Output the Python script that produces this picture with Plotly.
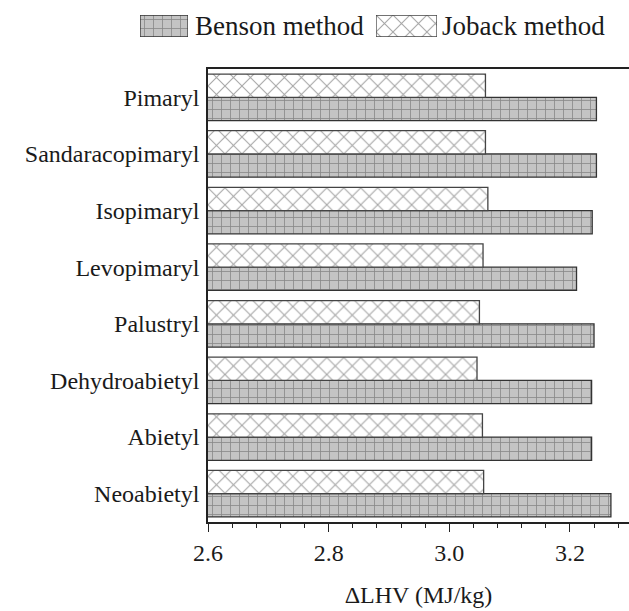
import plotly.graph_objects as go

# Fragments listed bottom-to-top on the category axis
fragments = ["Neoabietyl", "Abietyl", "Dehydroabietyl", "Palustryl",
             "Levopimaryl", "Isopimaryl", "Sandaracopimaryl", "Pimaryl"]
benson = [3.268, 3.236, 3.236, 3.240, 3.211, 3.237, 3.244, 3.244]
joback = [3.057, 3.055, 3.046, 3.050, 3.056, 3.064, 3.060, 3.060]
x_ticks = [2.6, 2.8, 3.0, 3.2]
series_names = ["Benson method", "Joback method"]
legend_swatch = [1]

FONT = "Liberation Serif"
INK = "#1a1a1a"
W, H = 629, 611

benson_marker = dict(color="#c4c4c4", line=dict(color="#333333", width=1.3),
                     pattern=dict(shape="+", size=9, solidity=0.17,
                                  fgcolor="#4a4a4a", bgcolor="#c4c4c4"))
joback_marker = dict(color="white", line=dict(color="#444444", width=1.3),
                     pattern=dict(shape="x", size=12, solidity=0.17,
                                  fgcolor="#4c4c4c", bgcolor="white"))


def px_x(p):
    return p / W


def px_y(p):
    return 1 - p / H


fig = go.Figure()
fig.add_trace(go.Bar(name=series_names[0], y=fragments, x=benson, orientation="h",
                     marker=benson_marker, showlegend=False))
fig.add_trace(go.Bar(name=series_names[1], y=fragments, x=joback, orientation="h",
                     marker=joback_marker, showlegend=False))

# Legend keys: one full-width bar per series on its own small axes
fig.add_trace(go.Bar(x=legend_swatch, y=[0], orientation="h", width=1,
                     marker=benson_marker, xaxis="x2", yaxis="y2",
                     showlegend=False, hoverinfo="skip"))
fig.add_trace(go.Bar(x=legend_swatch, y=[0], orientation="h", width=1,
                     marker=joback_marker, xaxis="x3", yaxis="y3",
                     showlegend=False, hoverinfo="skip"))

key_axis = dict(range=[0, 1], visible=False, fixedrange=True)
key_yaxis = dict(range=[-0.5, 0.5], visible=False, fixedrange=True)

fig.update_layout(
    width=W, height=H,
    margin=dict(l=0, r=0, t=0, b=0, autoexpand=False),
    barmode="group", bargap=0.18, bargroupgap=0,
    plot_bgcolor="white", paper_bgcolor="white",
    font=dict(family=FONT, size=24, color=INK),
    xaxis=dict(domain=[px_x(208), 1.0], range=[2.6, 3.298], automargin=False,
               tickvals=x_ticks, ticktext=[f"{v:.1f}" for v in x_ticks],
               tickfont=dict(family=FONT, size=24, color=INK),
               showline=True, linecolor="#222222", linewidth=1.6, mirror=True,
               ticks="outside", ticklen=8, tickwidth=1.3, tickcolor="#222222",
               minor=dict(dtick=0.04, tick0=2.6, ticks="outside", ticklen=4,
                          tickwidth=1.1, tickcolor="#222222"),
               showgrid=False, zeroline=False, anchor="y",
               title=dict(text="ΔLHV (MJ/kg)", standoff=22,
                          font=dict(family=FONT, size=24, color=INK))),
    yaxis=dict(domain=[px_y(522), px_y(69)], anchor="x", automargin=False,
               showline=True, linecolor="#222222", linewidth=1.6, ticks="",
               tickfont=dict(family=FONT, size=24, color=INK),
               showgrid=False, ticklabelstandoff=2),
    xaxis2=dict(domain=[px_x(140), px_x(188)], anchor="y2", **key_axis),
    yaxis2=dict(domain=[px_y(37), px_y(15)], anchor="x2", **key_yaxis),
    xaxis3=dict(domain=[px_x(376), px_x(437)], anchor="y3", **key_axis),
    yaxis3=dict(domain=[px_y(37), px_y(15)], anchor="x3", **key_yaxis),
    annotations=[
        dict(text=series_names[0], xref="paper", yref="paper", x=px_x(193), y=px_y(26),
             xanchor="left", yanchor="middle", showarrow=False,
             font=dict(family=FONT, size=27, color=INK)),
        dict(text=series_names[1], xref="paper", yref="paper", x=px_x(440), y=px_y(26),
             xanchor="left", yanchor="middle", showarrow=False,
             font=dict(family=FONT, size=27, color=INK)),
    ],
)

fig.write_html("out.html")
